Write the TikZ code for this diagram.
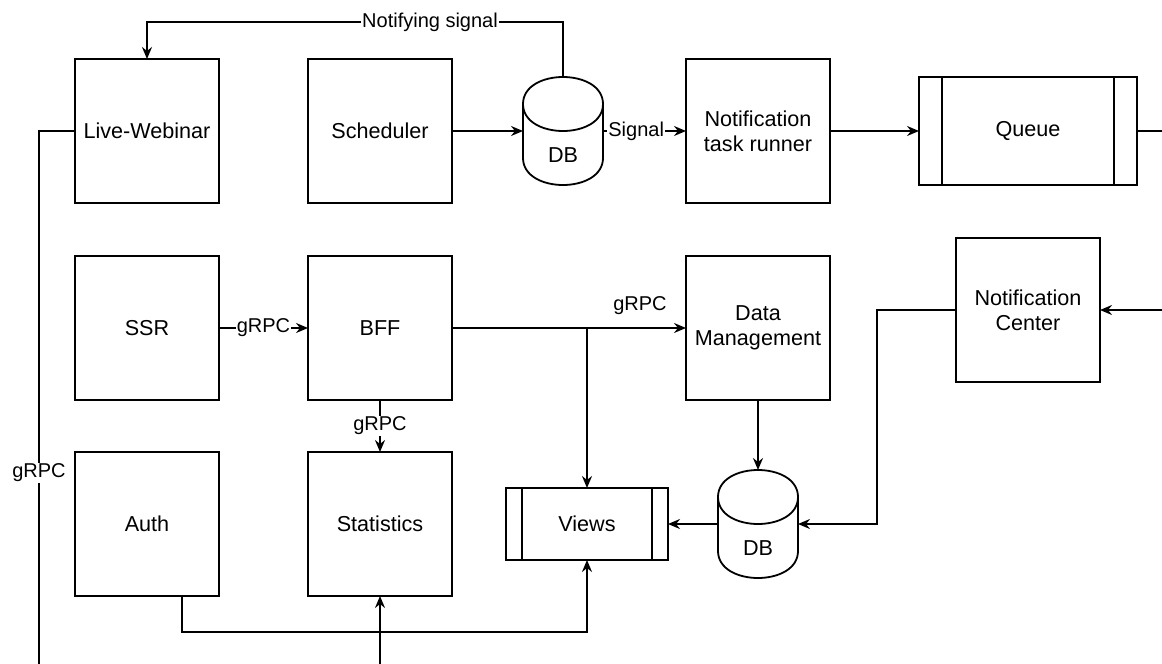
\documentclass[tikz,border=0pt]{standalone}
\usepackage{fontspec}
\setmainfont{Liberation Sans}
\usetikzlibrary{arrows.meta}

% Cylinder outline (database symbol): #1 left x, #2 top y, #3 bottom y
\newcommand{\dbcylinder}[3]{%
  \draw[line width=1.8pt]
    (#1,#2+27) .. controls (#1,#2-9) and (#1+80,#2-9) .. (#1+80,#2+27)
    -- (#1+80,#3-27) .. controls (#1+80,#3+9) and (#1,#3+9) .. (#1,#3-27)
    -- cycle;
  \draw[line width=1.8pt]
    (#1,#2+27) .. controls (#1,#2+63) and (#1+80,#2+63) .. (#1+80,#2+27);
}

\begin{document}
\begin{tikzpicture}[
  x=1pt, y=-1pt,
  blk/.style={draw, line width=1.8pt, minimum width=144pt, minimum height=144pt,
    inner sep=0pt, outer sep=0pt, align=center, font={\fontsize{21.6}{25}\selectfont}},
  procbox/.style={draw, line width=1.8pt, inner sep=0pt, outer sep=0pt, align=center,
    font={\fontsize{21.6}{25}\selectfont}},
  dbshape/.style={minimum width=80pt, minimum height=108pt, inner sep=0pt, outer sep=0pt},
  dbtext/.style={font={\fontsize{21.6}{25}\selectfont}, inner sep=0pt},
  elabel/.style={fill=white, inner sep=1pt, font={\fontsize{20}{23}\selectfont}},
  plainlabel/.style={inner sep=1pt, font={\fontsize{20}{23}\selectfont}},
  arr/.style={line width=1.8pt, -{Stealth[length=12pt, width=10pt, inset=4pt]}},
  ln/.style={line width=1.8pt}
]
\useasboundingbox (0,0) rectangle (1162,664);

% ---- top row ----
\node[blk] (lw)  at (147,131) {Live-Webinar};
\node[blk] (sch) at (380,131) {Scheduler};
\node[dbshape] (dbA) at (563,131) {};
\dbcylinder{523}{77}{185}
\node[dbtext] (dbAtext) at (563,155) {DB};
\node[blk] (ntr) at (758,131) {Notification\\task runner};
\node[procbox, minimum width=218pt, minimum height=108pt] (q) at (1028,131) {Queue};
\draw[ln] ([xshift=23pt]q.north west) -- ([xshift=23pt]q.south west);
\draw[ln] ([xshift=-23pt]q.north east) -- ([xshift=-23pt]q.south east);

% ---- middle row ----
\node[blk] (ssr) at (147,328) {SSR};
\node[blk] (bff) at (380,328) {BFF};
\node[blk] (dm)  at (758,328) {Data\\Management};
\node[blk] (nc)  at (1028,310) {Notification\\Center};

% ---- bottom row ----
\node[blk] (auth) at (147,524) {Auth};
\node[blk] (stat) at (380,524) {Statistics};
\node[procbox, minimum width=162pt, minimum height=72pt] (views) at (587,524) {Views};
\draw[ln] ([xshift=16pt]views.north west) -- ([xshift=16pt]views.south west);
\draw[ln] ([xshift=-16pt]views.north east) -- ([xshift=-16pt]views.south east);
\node[dbshape] (dbB) at (758,524) {};
\dbcylinder{718}{470}{578}
\node[dbtext] (dbBtext) at (758,548) {DB};

% ---- free ends and bends ----
\coordinate (ntop)   at (563,22);
\coordinate (qout)   at (1162,131);
\coordinate (ncin)   at (1162,310);
\coordinate (ncbend) at (877,310);
\coordinate (split)  at (587,328);
\coordinate (abend)  at (587,632);
\coordinate (sin)    at (380,664);
\coordinate (lwout)  at (39,664);

% ---- connectors ----
\draw[arr] (dbA.north) -- (ntop) -| (lw.north);
\node[elabel] (nsig) at (430,22) {Notifying signal};

\draw[arr] (sch) -- (dbA);
\draw[arr] (dbA) -- node[elabel, pos=0.4] (sigl) {Signal} (ntr);
\draw[arr] (ntr) -- (q);
\draw[ln] (q.east) -- (qout);

\draw[arr] (ssr) -- node[elabel] (g1) {gRPC} (bff);
\draw[arr] (bff) -- (dm);
\node[plainlabel] (g2) at (640,306) {gRPC};
\draw[arr] (split) -- (views);
\draw[arr] (bff) -- node[elabel] (g3) {gRPC} (stat);

\draw[arr] (dm) -- (dbB);
\draw[arr] (dbB) -- (views);
\draw[arr] (nc) -- (ncbend) |- (dbB);
\draw[arr] (ncin) -- (nc);

\draw[arr] ([xshift=35pt]auth.south) |- (abend) -- (views.south);
\draw[arr] (sin) -- (stat);

\draw[ln] (lw.west) -| (lwout);
\node[elabel] (g4) at (39,473) {gRPC};
\end{tikzpicture}
\end{document}
